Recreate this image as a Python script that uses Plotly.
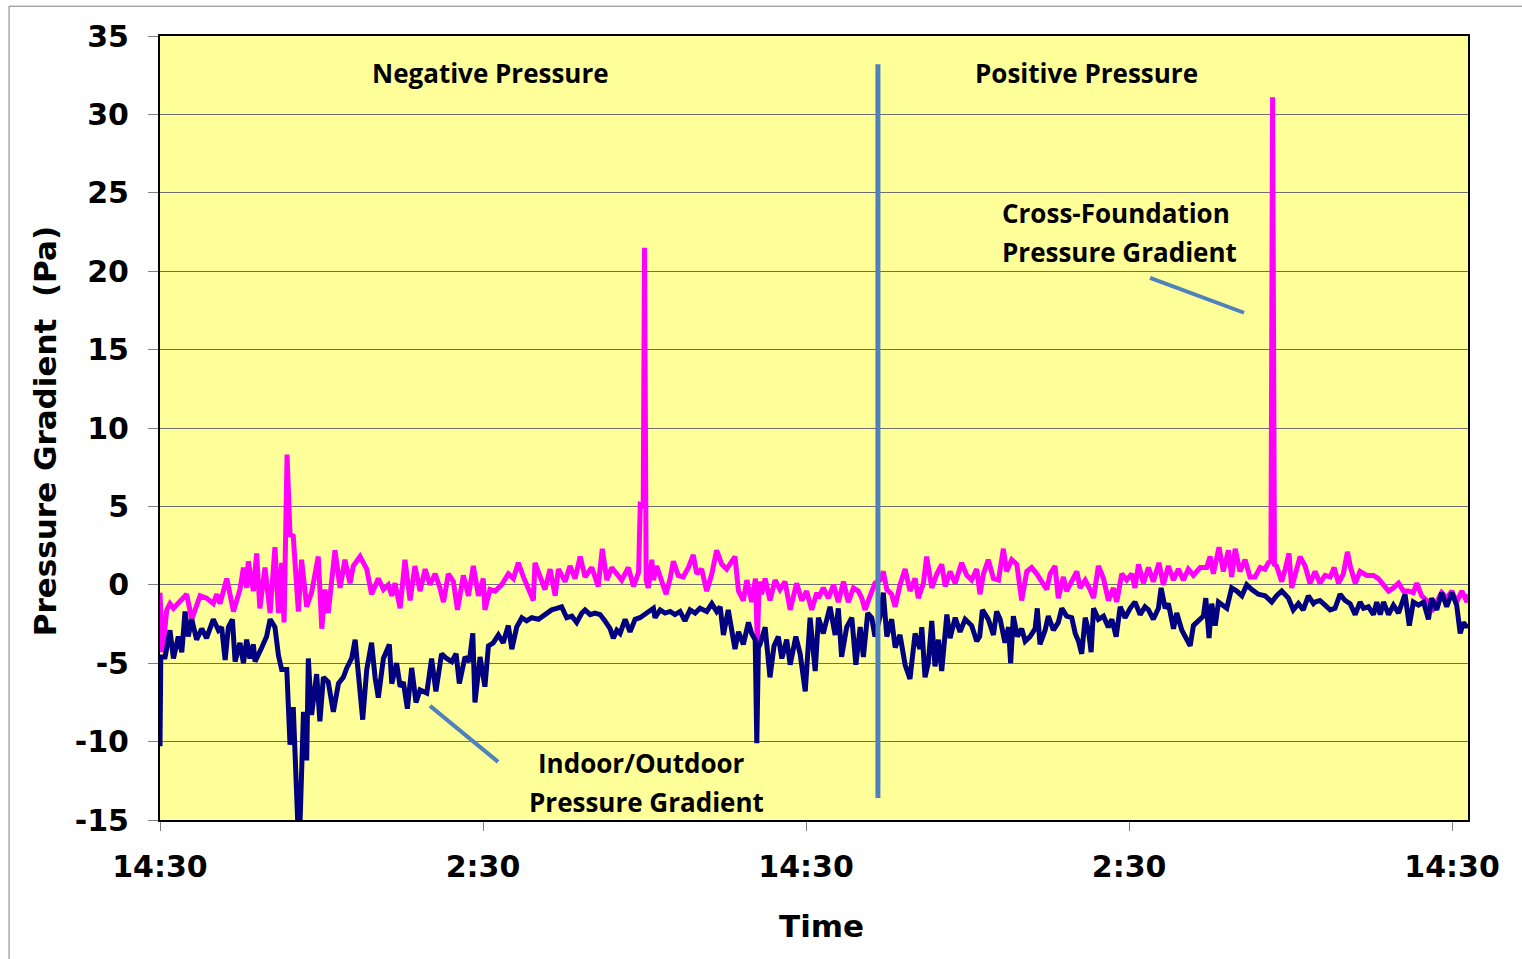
import plotly.graph_objects as go

# Elapsed time in hours from the 14:30 start
cf_hours = [0.00, 0.09, 0.25, 0.37, 0.50, 0.74, 0.99, 1.18, 1.49, 1.73, 1.98, 2.11, 2.23, 2.48, 2.73, 2.97,
            3.10, 3.22, 3.28, 3.47, 3.59, 3.71, 3.90, 4.09, 4.27, 4.40, 4.52, 4.61, 4.72, 4.83, 4.95, 5.14,
            5.26, 5.45, 5.63, 5.88, 6.01, 6.13, 6.25, 6.50, 6.69, 6.87, 7.06, 7.18, 7.43, 7.68, 7.86, 8.11,
            8.30, 8.48, 8.61, 8.73, 8.92, 9.10, 9.29, 9.47, 9.66, 9.85, 10.03, 10.22, 10.40, 10.53, 10.71,
            10.90, 11.05, 11.27, 11.46, 11.64, 11.83, 12.01, 12.07, 12.26, 12.45, 12.69, 12.94, 13.13, 13.31,
            13.50, 13.68, 13.87, 13.93, 14.12, 14.30, 14.49, 14.68, 14.80, 15.05, 15.23, 15.42, 15.61, 15.79,
            16.04, 16.28, 16.43, 16.60, 16.78, 16.97, 17.15, 17.40, 17.59, 17.78, 17.84, 17.95, 18.00, 18.06,
            18.14, 18.27, 18.33, 18.45, 18.64, 18.80, 18.95, 19.07, 19.25, 19.44, 19.63, 19.81, 19.94, 20.12,
            20.31, 20.50, 20.68, 20.87, 21.05, 21.24, 21.36, 21.49, 21.67, 21.80, 21.98, 22.12, 22.19, 22.26,
            22.35, 22.48, 22.66, 22.85, 23.03, 23.22, 23.41, 23.65, 23.84, 24.02, 24.21, 24.40, 24.46, 24.64,
            24.83, 25.02, 25.20, 25.39, 25.57, 25.76, 25.94, 26.07, 26.19, 26.38, 26.56, 26.75, 26.87, 27.00,
            27.18, 27.31, 27.49, 27.68, 27.86, 28.05, 28.17, 28.36, 28.48, 28.67, 28.86, 29.04, 29.17, 29.35,
            29.54, 29.78, 29.97, 30.15, 30.34, 30.46, 30.59, 30.77, 30.96, 31.15, 31.33, 31.45, 31.64, 31.83,
            32.01, 32.20, 32.38, 32.57, 32.75, 32.94, 33.07, 33.25, 33.37, 33.56, 33.68, 33.87, 34.06, 34.18,
            34.37, 34.55, 34.68, 34.86, 35.05, 35.23, 35.42, 35.54, 35.73, 35.91, 36.10, 36.22, 36.35, 36.53,
            36.72, 36.90, 37.11, 37.27, 37.46, 37.65, 37.83, 38.02, 38.20, 38.39, 38.64, 38.88, 39.01, 39.13,
            39.34, 39.50, 39.69, 39.81, 39.94, 40.12, 40.31, 40.49, 40.68, 40.87, 41.05, 41.17, 41.27, 41.33,
            41.40, 41.48, 41.67, 41.80, 41.94, 42.04, 42.23, 42.35, 42.54, 42.72, 42.91, 43.09, 43.28, 43.47,
            43.62, 43.78, 43.96, 44.11, 44.23, 44.40, 44.58, 44.83, 45.08, 45.26, 45.45, 45.64, 45.82, 46.01,
            46.19, 46.38, 46.56, 46.69, 46.87, 47.06, 47.24, 47.43, 47.61, 47.80, 47.99, 48.17, 48.36, 48.55,
            48.60]

# Cross-foundation pressure gradient (Pa)
cf_pa = [-0.5, -4.3, -1.6, -1.2, -1.5, -1.1, -0.6, -2.2, -0.7, -0.85, -1.2, -0.6, -1.2, 0.4, -1.7, -0.3,
         1.1, -0.2, 1.5, -0.4, 2.0, -1.5, 1.1, -1.8, 2.4, -1.8, 1.4, -2.4, 8.3, 3.2, 3.1, -1.7,
         1.6, -1.4, -0.5, 1.8, -2.8, -0.3, -1.8, 2.2, -0.2, 1.6, 0.1, 1.2, 1.8, 1.0, -0.6, 0.4,
         -0.3, 0.0, -0.7, 0.1, -1.5, 1.6, -1.0, 1.2, -0.4, 1.0, 0.0, 0.7, -0.2, -1.1, 0.7,
         0.2, -1.6, 0.6, -0.7, 1.2, -0.7, 0.4, -1.6, -0.3, -0.4, 0.0, 0.7, 0.4, 1.4,
         0.5, -0.3, -1.0, 1.4, 0.4, -0.3, 1.0, -0.7, 1.0, 0.2, 1.2, 0.4, 1.8, 0.5,
         1.1, -0.1, 2.3, 0.3, 1.1, 0.7, 0.3, 1.1, -0.1, 0.8, 5.1, 5.0, 21.5, 0.3,
         -0.2, 1.6, 0.3, 1.2, 0.1, -0.6, 0.4, 1.5, 0.6, 0.5, 1.1, 1.9, 0.7, 1.0,
         -0.4, 0.7, 2.2, 1.3, 1.0, 1.5, 1.8, -0.4, -1.0, 0.3, -1.1, 0.4, -3.8, 0.2,
         -0.6, 0.4, -1.0, 0.3, -0.3, 0.2, -1.6, 0.1, -1.0, -0.4, -1.6, -0.5, -0.85, -0.2,
         -0.85, 0.0, -1.1, 0.2, -1.1, -0.2, -0.4, -0.85, -1.6, -0.7, 0.1, 0.3, 0.85, -0.3,
         -0.6, -1.4, 0.0, 1.0, -0.4, 0.4, -0.85, 0.1, 1.8, -0.2, 0.7, 1.3, -0.1, 0.85,
         0.1, 1.4, 0.6, 0.3, 1.0, -0.6, 0.7, 1.6, 0.4, 0.3, 2.3, 0.85, 1.6, 1.3,
         -1.0, 0.85, 1.1, 0.7, 0.2, -0.3, 0.7, 1.2, -0.85, 0.5, -0.4, 0.3, 0.85, -0.2,
         0.3, -0.3, -0.85, 1.2, 0.4, -1.0, -0.2, -1.1, 0.7, 0.3, 0.7, -0.2, 1.3, 0.1,
         1.1, 0.2, 1.4, 0.0, 1.2, 0.3, 1.0, 0.3, 1.0, 0.6, 1.1, 1.1, 1.8, 0.7,
         2.4, 0.85, 2.2, 0.5, 2.3, 0.85, 1.6, 0.5, 0.5, 1.1, 1.0, 1.4, 1.5, 31.1,
         1.3, 1.2, 0.2, 1.0, 2.0, -0.2, 1.0, 1.8, 1.2, 0.1, 0.85, 0.1, 0.6, 0.5,
         1.1, 0.1, 0.7, 2.1, 1.1, 0.1, 0.85, 0.6, 0.6, 0.4, 0.0, -0.4, -0.2, 0.1,
         -0.4, -0.4, -0.5, 0.1, -0.7, -1.0, -1.7, -1.0, -0.5, -0.85, -0.4, -1.1, -0.4, -1.1,
         -0.6]

io_hours = [0.00, 0.03, 0.19, 0.37, 0.50, 0.68, 0.81, 0.93, 1.05, 1.18, 1.36, 1.55, 1.73, 1.98, 2.17, 2.29,
            2.42, 2.54, 2.69, 2.79, 2.97, 3.10, 3.22, 3.34, 3.47, 3.53, 3.78, 3.96, 4.09, 4.27, 4.40, 4.52,
            4.71, 4.77, 4.83, 4.95, 5.02, 5.12, 5.20, 5.26, 5.33, 5.45, 5.51, 5.63, 5.82, 5.94, 6.07, 6.25,
            6.44, 6.63, 6.81, 6.94, 7.12, 7.25, 7.37, 7.53, 7.68, 7.86, 7.99, 8.11, 8.30, 8.52, 8.61, 8.79,
            8.92, 9.04, 9.19, 9.35, 9.51, 9.66, 9.91, 10.09, 10.25, 10.46, 10.65, 10.84, 11.00, 11.12, 11.33,
            11.49, 11.62, 11.70, 11.89, 12.07, 12.20, 12.38, 12.57, 12.75, 12.94, 13.07, 13.25, 13.44, 13.62,
            13.81, 14.06, 14.30, 14.55, 14.74, 14.92, 15.11, 15.30, 15.48, 15.67, 15.79, 15.98, 16.16, 16.35,
            16.53, 16.72, 16.84, 16.97, 17.09, 17.28, 17.46, 17.65, 17.83, 18.08, 18.33, 18.39, 18.58, 18.76,
            18.95, 19.13, 19.32, 19.50, 19.69, 19.88, 20.06, 20.31, 20.50, 20.68, 20.81, 20.93, 21.11, 21.24,
            21.36, 21.49, 21.67, 21.86, 21.98, 22.11, 22.17, 22.23, 22.29, 22.48, 22.66, 22.81, 22.97, 23.10,
            23.28, 23.41, 23.62, 23.78, 23.97, 24.15, 24.34, 24.46, 24.64, 24.89, 25.08, 25.20, 25.32, 25.51,
            25.70, 25.85, 26.01, 26.13, 26.29, 26.44, 26.56, 26.75, 26.87, 27.00, 27.18, 27.31, 27.49, 27.68,
            27.86, 28.05, 28.23, 28.30, 28.42, 28.54, 28.67, 28.79, 28.92, 29.04, 29.23, 29.35, 29.54, 29.72,
            29.91, 30.15, 30.34, 30.45, 30.55, 30.77, 30.96, 31.08, 31.21, 31.39, 31.52, 31.60, 31.70, 31.85,
            32.01, 32.14, 32.32, 32.51, 32.59, 32.69, 32.88, 33.00, 33.19, 33.37, 33.50, 33.68, 33.87, 34.00,
            34.12, 34.24, 34.37, 34.49, 34.59, 34.68, 34.86, 35.05, 35.23, 35.36, 35.52, 35.67, 35.85, 36.04,
            36.22, 36.41, 36.59, 36.72, 36.90, 37.09, 37.19, 37.34, 37.46, 37.65, 37.77, 37.96, 38.14, 38.27,
            38.39, 38.58, 38.76, 38.85, 38.97, 39.07, 39.20, 39.32, 39.50, 39.63, 39.81, 40.00, 40.19, 40.37,
            40.56, 40.80, 41.05, 41.30, 41.48, 41.67, 41.92, 42.10, 42.29, 42.47, 42.66, 42.85, 42.91, 43.09,
            43.28, 43.47, 43.65, 43.84, 44.02, 44.21, 44.40, 44.58, 44.71, 44.89, 45.08, 45.20, 45.33, 45.45,
            45.64, 45.82, 46.01, 46.25, 46.41, 46.56, 46.75, 46.94, 47.12, 47.24, 47.43, 47.61, 47.80, 47.99,
            48.17, 48.30, 48.42, 48.55, 48.60]

# Indoor/outdoor pressure gradient (Pa)
io_pa = [-10.3, -4.6, -4.6, -2.9, -4.7, -3.3, -4.3, -1.7, -3.3, -2.2, -3.5, -2.8, -3.4, -2.2, -2.9, -2.7,
         -4.8, -2.7, -2.2, -4.9, -3.7, -5.0, -3.5, -4.7, -3.8, -4.9, -4.0, -3.3, -2.2, -2.7, -4.5, -5.4,
         -5.4, -7.8, -10.2, -7.8, -10.3, -15.3, -15.3, -12.3, -8.1, -11.2, -4.7, -8.3, -5.7, -8.7, -5.9, -6.2,
         -8.1, -6.3, -5.9, -5.3, -4.7, -3.5, -5.4, -8.6, -5.4, -3.7, -5.9, -7.2, -4.7, -3.8, -6.3, -5.0,
         -6.5, -6.2, -7.9, -5.3, -7.5, -6.7, -6.9, -4.7, -6.8, -4.4, -4.7, -4.9, -4.4, -6.3, -4.6,
         -4.9, -3.1, -7.5, -4.6, -6.5, -3.9, -3.7, -3.2, -3.7, -2.6, -4.1, -2.7, -2.1, -2.3,
         -2.1, -2.2, -1.9, -1.6, -1.5, -1.4, -2.1, -2.0, -2.4, -1.8, -1.6, -1.9, -1.8, -1.9,
         -2.3, -2.8, -3.4, -2.9, -3.1, -2.2, -3.0, -2.2, -2.1, -1.8, -1.5, -2.1, -1.6, -1.8,
         -1.7, -1.9, -1.7, -2.3, -1.6, -1.8, -1.5, -1.7, -1.2, -1.7, -1.4, -3.2, -1.6, -2.9,
         -4.1, -3.0, -3.8, -2.4, -3.1, -3.5, -10.1, -4.0, -3.8, -2.7, -5.9, -3.9, -3.3, -4.7,
         -3.5, -5.1, -3.3, -4.4, -6.8, -2.1, -5.5, -2.1, -3.1, -1.4, -3.2, -1.5, -4.6, -2.7,
         -2.1, -5.1, -2.7, -4.6, -1.8, -2.1, -3.3, -2.0, -0.5, -3.3, -2.2, -4.0, -3.2, -5.1,
         -6.0, -3.1, -4.1, -2.7, -5.9, -5.0, -2.3, -5.2, -3.5, -5.5, -1.9, -3.4, -2.1, -3.0,
         -2.2, -2.6, -3.6, -3.3, -1.6, -2.2, -3.2, -1.7, -2.2, -3.7, -2.7, -5.0, -2.0, -3.3,
         -2.8, -3.6, -3.3, -2.8, -1.5, -3.8, -2.9, -2.0, -2.9, -2.4, -1.5, -2.0, -2.1, -3.1,
         -3.6, -4.4, -2.1, -2.9, -4.3, -1.5, -2.2, -2.0, -2.7, -2.2, -3.3, -1.4, -2.1, -1.5,
         -1.1, -1.9, -1.4, -1.6, -2.2, -1.5, -0.2, -1.5, -1.2, -2.8, -1.8, -2.9, -3.4, -3.9,
         -2.6, -2.3, -2.0, -0.85, -3.4, -1.2, -2.6, -1.1, -1.3, -1.5, -0.2, -0.4, -0.7, 0.0,
         -0.3, -0.6, -0.7, -1.1, -0.7, -0.4, -0.85, -1.6, -1.2, -1.6, -0.7, -1.2, -1.1, -1.0,
         -1.3, -1.6, -1.5, -0.6, -1.0, -1.2, -1.9, -1.1, -1.5, -1.4, -1.9, -1.1, -1.9, -1.1,
         -1.9, -1.3, -1.8, -0.6, -2.6, -1.1, -1.3, -1.1, -2.2, -0.85, -1.6, -0.5, -1.4, -0.5,
         -1.3, -3.1, -2.4, -2.7, -2.5]

# Axis ticks
x_tick_hours = [0, 12, 24, 36, 48]
x_tick_labels = ["14:30", "2:30", "14:30", "2:30", "14:30"]
y_ticks = [-15, -10, -5, 0, 5, 10, 15, 20, 25, 30, 35]
y_tick_labels = ["-15", "-10", "-5", "0", "5", "10", "15", "20", "25", "30", "35"]

# Switch from negative to positive building pressure
switch_hour = 26.67

BLUE = "#4F81BD"
AXIS_FONT = dict(family="DejaVu Sans", size=30, color="black", weight="bold")
TITLE_FONT = dict(family="DejaVu Sans", size=31, color="black")
NOTE_FONT = dict(family="Open Sans", size=26, color="black")

fig = go.Figure()

fig.add_trace(go.Scatter(
    x=cf_hours, y=cf_pa, mode="lines", name="Cross-Foundation Pressure Gradient",
    line=dict(color="#FF00FF", width=5), cliponaxis=True,
))
fig.add_trace(go.Scatter(
    x=io_hours, y=io_pa, mode="lines", name="Indoor/Outdoor Pressure Gradient",
    line=dict(color="#000080", width=5), cliponaxis=True,
))

# Divider between the two pressure regimes
fig.add_shape(type="line", xref="x", yref="y", x0=switch_hour, x1=switch_hour, y0=33.2, y1=-13.6,
              line=dict(color=BLUE, width=5))
# Leader lines from the labels to each series
fig.add_shape(type="line", xref="x", yref="y", x0=36.78, y0=19.58, x1=40.27, y1=17.35,
              line=dict(color=BLUE, width=4))
fig.add_shape(type="line", xref="x", yref="y", x0=10.03, y0=-7.72, x1=12.56, y1=-11.29,
              line=dict(color=BLUE, width=4))

# Outer chart border
fig.add_shape(type="rect", xref="paper", yref="paper", x0=-0.1154, x1=1.06, y0=-0.2, y1=1.038,
              line=dict(color="#7F7F7F", width=1), fillcolor="rgba(0,0,0,0)", layer="below")

notes = [
    ("<b>Negative Pressure</b>", 0.2523, 0.9528, "center"),
    ("<b>Positive Pressure</b>", 0.708, 0.9528, "center"),
    ("<b>Cross-Foundation</b>", 0.642, 0.7742, "left"),
    ("<b>Pressure Gradient</b>", 0.642, 0.7245, "left"),
    ("<b>Indoor/Outdoor</b>", 0.3685, 0.0727, "center"),
    ("<b>Pressure Gradient</b>", 0.3716, 0.023, "center"),
]
for text, xp, yp, anchor in notes:
    fig.add_annotation(text=text, xref="paper", yref="paper", x=xp, y=yp, xanchor=anchor,
                       yanchor="middle", showarrow=False, font=NOTE_FONT)

fig.add_annotation(text="<b>Pressure Gradient  (Pa)</b>", xref="paper", yref="paper",
                   x=-0.0879, y=0.496, textangle=-90, showarrow=False, font=TITLE_FONT,
                   xanchor="center", yanchor="middle")
fig.add_annotation(text="<b>Time</b>", xref="paper", yref="paper", x=0.506, y=-0.135,
                   showarrow=False, font=TITLE_FONT, xanchor="center", yanchor="middle")

fig.update_layout(
    width=1522, height=959,
    margin=dict(l=160, r=54, t=36, b=139),
    paper_bgcolor="white",
    plot_bgcolor="#FFFF99",
    showlegend=False,
    font=dict(family="DejaVu Sans", color="black"),
)
fig.update_xaxes(
    range=[0, 48.59], tickmode="array", tickvals=x_tick_hours, ticktext=x_tick_labels,
    ticks="outside", ticklen=9, tickcolor="#808080", tickwidth=1,
    showline=True, linecolor="black", linewidth=2, mirror=True,
    showgrid=False, zeroline=False,
    tickfont=AXIS_FONT, ticklabelstandoff=10,
)
fig.update_yaxes(
    range=[-15, 35], tickmode="array", tickvals=y_ticks, ticktext=y_tick_labels,
    ticks="outside", ticklen=10, tickcolor="#808080", tickwidth=1,
    showline=True, linecolor="black", linewidth=2, mirror=True,
    showgrid=True, gridcolor="#6E6E6E", gridwidth=1, zeroline=False,
    tickfont=AXIS_FONT, ticklabelstandoff=13,
)

fig.write_html("out.html")
